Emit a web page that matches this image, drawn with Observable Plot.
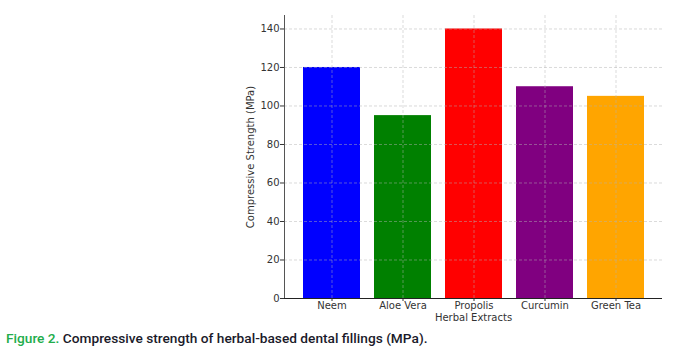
<!DOCTYPE html>
<html>
<head>
<meta charset="utf-8">
<script src="https://cdn.jsdelivr.net/npm/d3@7"></script>
<script src="https://cdn.jsdelivr.net/npm/@observablehq/plot@0.6"></script>
<style>
  body { margin: 0; background: #fff; }
  #caption { font-family: Roboto, sans-serif; font-size: 13.7px; font-weight: 500; color: #1a1a2a; margin: 4px 0 0 6px; line-height: 18px; }
  #caption .fig { color: #22ad4b; }
  svg text { font-family: "DejaVu Sans", sans-serif; }
</style>
</head>
<body>
<div id="chart"></div>
<div id="caption"><span class="fig">Figure 2.</span> Compressive strength of herbal-based dental fillings (MPa).</div>
<script>
const categories = ["Neem", "Aloe Vera", "Propolis", "Curcumin", "Green Tea"];
const values = [120, 95, 140, 110, 105];
const colors = ["#0000ff", "#008000", "#ff0000", "#800080", "#ffa500"];
const yTicks = [0, 20, 40, 60, 80, 100, 120, 140];

const data = categories.map((c, i) => ({category: c, value: values[i], color: colors[i]}));

const chart = Plot.plot({
  width: 686,
  height: 325,
  marginLeft: 284,
  marginRight: 24,
  marginTop: 15,
  marginBottom: 27,
  style: {fontFamily: "DejaVu Sans", fontSize: "10px", color: "#333"},
  x: {domain: categories, paddingInner: 0.2, paddingOuter: 0.25},
  y: {domain: [0, 147]},
  marks: [
    Plot.barY(data, {x: "category", y: "value", fill: "color"}),
    Plot.ruleY(yTicks, {stroke: "#b0b0b0", strokeOpacity: 0.6, strokeDasharray: "3,2", strokeWidth: 0.8}),
    Plot.ruleX(categories, {x: d => d, stroke: "#b0b0b0", strokeOpacity: 0.6, strokeDasharray: "3,2", strokeWidth: 0.8}),
    Plot.axisY({ticks: yTicks, tickSize: 4, tickPadding: 1, fontSize: 10, label: "Compressive Strength (MPa)", labelAnchor: "center", labelArrow: "none", labelOffset: 38}),
    Plot.axisX({tickSize: 3, tickPadding: 0, fontSize: 10, label: "Herbal Extracts", labelAnchor: "center", labelArrow: "none", labelOffset: 22}),
    Plot.frame({anchor: "left", stroke: "#555"}),
    Plot.ruleY([0], {stroke: "#222"})
  ]
});
document.getElementById("chart").appendChild(chart);
</script>
</body>
</html>
